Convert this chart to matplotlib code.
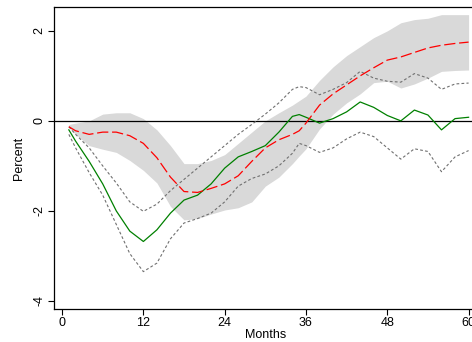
import numpy as np
from matplotlib import pyplot as plt

plt.rcParams["font.family"] = ["Liberation Sans", "DejaVu Sans"]

months = [1, 2, 4, 6, 8, 10, 12, 14, 16, 18, 20, 22, 24, 26, 28, 30, 32,
          34, 35, 36, 38, 40, 42, 44, 46, 48, 50, 52, 54, 56, 58, 60]

median = [-0.13, -0.22, -0.30, -0.25, -0.25, -0.33, -0.50, -0.82, -1.25, -1.57,
          -1.59, -1.50, -1.40, -1.22, -0.90, -0.60, -0.42, -0.30, -0.22, -0.05,
          0.35, 0.60, 0.80, 1.00, 1.18, 1.35, 1.42, 1.52, 1.62, 1.68, 1.72, 1.75]

band_hi = [-0.08, -0.05, 0.00, 0.15, 0.18, 0.18, 0.05, -0.20, -0.55, -0.95,
           -0.95, -0.88, -0.75, -0.50, -0.25, 0.00, 0.18, 0.35, 0.45, 0.55,
           0.90, 1.20, 1.45, 1.65, 1.85, 2.00, 2.18, 2.25, 2.28, 2.36, 2.36, 2.36]

band_lo = [-0.15, -0.30, -0.55, -0.63, -0.70, -0.88, -1.10, -1.38, -1.90, -2.20,
           -2.17, -2.07, -1.98, -1.93, -1.80, -1.45, -1.25, -0.95, -0.78, -0.62,
           -0.18, 0.15, 0.40, 0.60, 0.85, 0.88, 0.73, 0.82, 0.95, 1.10, 1.12, 1.13]

green = [-0.20, -0.45, -0.90, -1.40, -2.00, -2.45, -2.68, -2.42, -2.05, -1.76,
         -1.65, -1.40, -1.05, -0.80, -0.68, -0.55, -0.25, 0.10, 0.14, 0.08,
         -0.05, 0.05, 0.20, 0.42, 0.30, 0.12, 0.00, 0.24, 0.13, -0.20, 0.05, 0.08]

green_hi = [-0.13, -0.30, -0.60, -1.00, -1.38, -1.80, -2.01, -1.85, -1.55, -1.30,
            -1.05, -0.80, -0.55, -0.30, -0.08, 0.15, 0.40, 0.70, 0.76, 0.74,
            0.58, 0.70, 0.85, 1.10, 0.95, 0.88, 0.86, 1.05, 0.95, 0.70, 0.82, 0.84]

green_lo = [-0.30, -0.60, -1.15, -1.65, -2.30, -2.95, -3.35, -3.16, -2.62, -2.27,
            -2.17, -2.05, -1.80, -1.45, -1.28, -1.18, -1.00, -0.72, -0.50, -0.55,
            -0.70, -0.60, -0.40, -0.25, -0.35, -0.60, -0.85, -0.62, -0.68, -1.13,
            -0.80, -0.66]

xticks = [0, 12, 24, 36, 48, 60]
yticks = [-4, -2, 0, 2]

fig = plt.figure(figsize=(4.72, 3.42), dpi=100)
ax = fig.add_axes([54 / 472, 1 - 309 / 342, 1 - 54 / 472 + 0.01, (309 - 7) / 342])

ax.fill_between(months, band_lo, band_hi, color="#d9d9d9", lw=0)
ax.axhline(0, color="black", lw=0.9)
ax.plot(months, green_hi, color="#707070", lw=0.8, ls=(0, (2.5, 2)))
ax.plot(months, green_lo, color="#707070", lw=0.8, ls=(0, (2.5, 2)))
ax.plot(months, green, color="#008000", lw=0.9)
ax.plot(months, median, color="#ff0000", lw=0.9, ls=(0, (9, 3)))

ax.set_xlim(-1.19, 61.2)
ax.set_ylim(-4.18, 2.53)
ax.set_xticks(xticks)
ax.set_yticks(yticks)
ax.set_yticklabels([str(v) for v in yticks], rotation=90, va="center")
ax.tick_params(direction="out", length=4, width=0.8, labelsize=9, pad=2)
ax.spines["right"].set_visible(False)
for s in ["left", "bottom", "top"]:
    ax.spines[s].set_linewidth(0.9)

ax.set_xlabel("Months", fontsize=9, labelpad=0)
ax.set_ylabel("Percent", fontsize=9, labelpad=6)

fig.savefig("out.png", dpi=100)
